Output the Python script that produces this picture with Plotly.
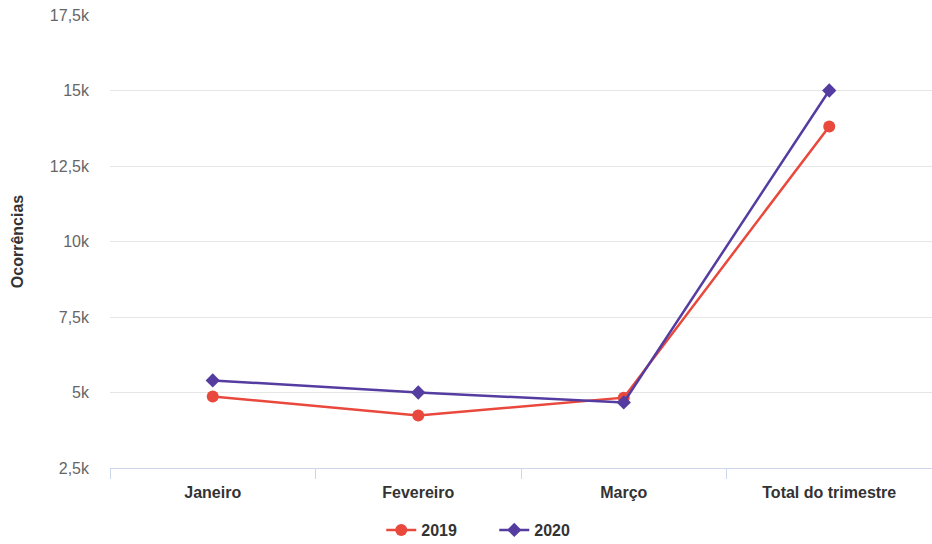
import plotly.graph_objects as go

categories = ["Janeiro", "Fevereiro", "Março", "Total do trimestre"]
values_2019 = [4870, 4240, 4830, 13810]
values_2020 = [5400, 5000, 4670, 15000]
ytick_vals = [2500, 5000, 7500, 10000, 12500, 15000, 17500]
ytick_text = ["2,5k", "5k", "7,5k", "10k", "12,5k", "15k", "17,5k"]

FONT = "Liberation Sans, Arial, Helvetica, sans-serif"
RED = "#e9483c"
PURPLE = "#553ca0"

fig = go.Figure()
fig.add_trace(go.Scatter(
    x=categories, y=values_2019, name="2019", mode="lines+markers",
    line=dict(color=RED, width=2.5),
    marker=dict(symbol="circle", size=12, color=RED),
))
fig.add_trace(go.Scatter(
    x=categories, y=values_2020, name="2020", mode="lines+markers",
    line=dict(color=PURPLE, width=2.5),
    marker=dict(symbol="diamond", size=11, color=PURPLE),
))

fig.update_layout(
    width=932, height=544,
    margin=dict(l=110, r=0, t=15, b=76, autoexpand=False),
    paper_bgcolor="white", plot_bgcolor="white",
    font=dict(family=FONT, color="#333333"),
    showlegend=True,
    legend=dict(
        orientation="h", x=0.33, xanchor="left", y=-0.137, yanchor="middle",
        font=dict(size=16, color="#333333", family=FONT, weight="bold"),
        itemwidth=30, entrywidth=68, entrywidthmode="pixels",
    ),
    xaxis=dict(
        type="category", range=[-0.5, 3.5],
        showgrid=False, zeroline=False,
        showline=True, linecolor="#ccd6eb", linewidth=1,
        ticks="outside", tickson="boundaries", ticklen=10, tickcolor="#ccd6eb",
        tickfont=dict(size=16, color="#333333", family=FONT, weight="bold"),
        ticklabelstandoff=10,
    ),
    yaxis=dict(
        range=[2500, 17500],
        tickvals=ytick_vals, ticktext=ytick_text,
        showgrid=True, gridcolor="#e6e6e6", gridwidth=1,
        zeroline=False, showline=False,
        tickfont=dict(size=16, color="#666666", family=FONT),
        ticklabelstandoff=20,
        title=dict(text="Ocorrências", font=dict(size=16, color="#333333", family=FONT, weight="bold"), standoff=22),
    ),
)

fig.write_html("out.html")
